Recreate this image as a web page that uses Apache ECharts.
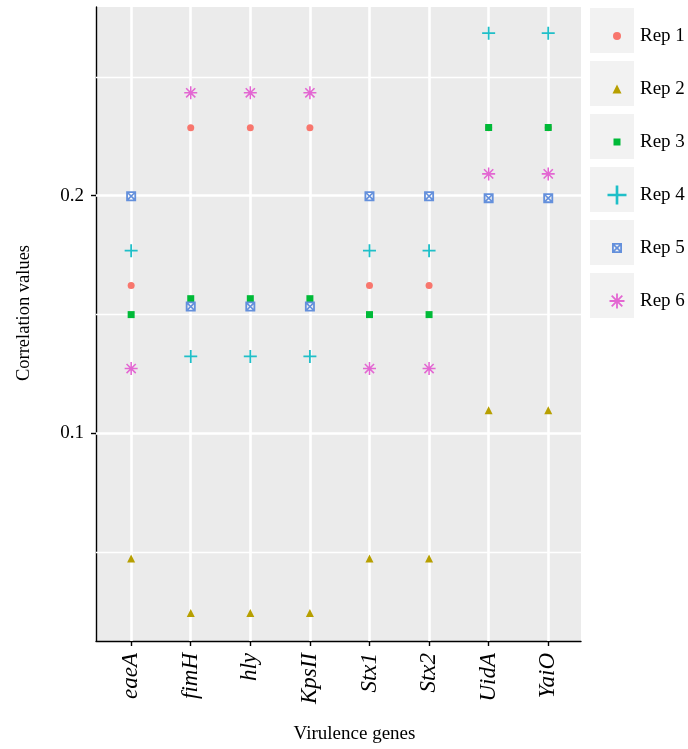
<!DOCTYPE html>
<html>
<head>
<meta charset="utf-8">
<script src="https://cdn.jsdelivr.net/npm/echarts@6/dist/echarts.min.js"></script>
<style>
  html, body { margin: 0; padding: 0; background: #ffffff; }
  #chart { width: 688px; height: 749px; }
</style>
</head>
<body>
<div id="chart"></div>
<script>
// Virulence genes on the x axis
const genes = ['eaeA', 'fimH', 'hly', 'KpsII', 'Stx1', 'Stx2', 'UidA', 'YaiO'];

// Correlation values per replicate, one value per gene
const rep1 = [0.1622, 0.2286, 0.2286, 0.2286, 0.1622, 0.1622, 0.2286, 0.2286];
const rep2 = [0.0474, 0.0245, 0.0245, 0.0245, 0.0474, 0.0474, 0.1098, 0.1098];
const rep3 = [0.1500, 0.1567, 0.1567, 0.1567, 0.1500, 0.1500, 0.2287, 0.2287];
const rep4 = [0.1769, 0.1324, 0.1324, 0.1324, 0.1769, 0.1769, 0.2684, 0.2684];
const rep5 = [0.1998, 0.1534, 0.1534, 0.1534, 0.1998, 0.1998, 0.1990, 0.1990];
const rep6 = [0.1273, 0.2433, 0.2433, 0.2433, 0.1273, 0.1273, 0.2092, 0.2092];

const repNames = ['Rep 1', 'Rep 2', 'Rep 3', 'Rep 4', 'Rep 5', 'Rep 6'];
const repValues = [rep1, rep2, rep3, rep4, rep5, rep6];

// y axis: labelled ticks and minor grid positions
const yTicks = [0.1, 0.2];
const yMinor = [0.05, 0.15, 0.25];

// ---------- symbol shapes (ggplot-like point shapes) ----------
function rectPoly(halfW, halfL, angleDeg, cx, cy) {
  const a = angleDeg * Math.PI / 180, c = Math.cos(a), s = Math.sin(a);
  const pts = [[-halfW, -halfL], [halfW, -halfL], [halfW, halfL], [-halfW, halfL]]
    .map(([x, y]) => [cx + x * c - y * s, cy + x * s + y * c]);
  return 'M' + pts.map(p => p[0].toFixed(2) + ' ' + p[1].toFixed(2)).join(' L') + ' Z';
}
const plusPath = 'path://M43 0 L57 0 L57 43 L100 43 L100 57 L57 57 L57 100 L43 100 L43 57 L0 57 L0 43 L43 43 Z';
const asteriskPath = 'path://' + [0, 45, 90, 135].map(a => rectPoly(6, 50, a, 50, 50)).join(' ');
const squareCrossPath = 'path://M0 0 L100 0 L100 100 L0 100 Z M18 18 L18 82 L82 82 L82 18 Z ' +
  rectPoly(8, 45, 45, 50, 50) + ' ' + rectPoly(8, 45, 135, 50, 50);

const styles = [
  { color: '#F8766D', symbol: 'circle',        size: 7,  legendSize: 8 },
  { color: '#B79F00', symbol: 'triangle',      size: 8,  legendSize: 9 },
  { color: '#00BA38', symbol: 'rect',          size: 7,  legendSize: 7 },
  { color: '#1FBFC8', symbol: plusPath,        size: 13, legendSize: 19 },
  { color: '#6490DC', symbol: squareCrossPath, size: 10, legendSize: 10 },
  { color: '#E367D2', symbol: asteriskPath,    size: 13, legendSize: 15 }
];

const FONT = 'Liberation Serif';

const chart = echarts.init(document.getElementById('chart'), null, { renderer: 'canvas' });

const seriesList = repNames.map((name, k) => ({
  type: 'scatter',
  name: name,
  data: repValues[k].map((v, i) => [i + 1, v]),
  symbol: styles[k].symbol,
  symbolSize: styles[k].size,
  itemStyle: { color: styles[k].color, opacity: 1 },
  z: 3 + k,
  silent: true
}));

// White panel grid lines drawn through the axes' scales
const gridLines = {
  type: 'scatter',
  name: '_grid',
  data: [],
  silent: true,
  z: 1,
  markLine: {
    silent: true,
    symbol: 'none',
    z: 1,
    animation: false,
    label: { show: false },
    lineStyle: { color: '#ffffff', type: 'solid', width: 2.6 },
    emphasis: { disabled: true },
    data: [
      ...yMinor.map(v => ({ yAxis: v, lineStyle: { color: '#ffffff', type: 'solid', width: 1.3 } })),
      ...yTicks.map(v => ({ yAxis: v, lineStyle: { color: '#ffffff', type: 'solid', width: 2.6 } })),
      ...genes.map((g, i) => ({ xAxis: i + 1, lineStyle: { color: '#ffffff', type: 'solid', width: 2.6 } }))
    ]
  }
};

// One legend block per replicate so each key keeps its own symbol size
const legends = repNames.map((name, k) => {
  const s = styles[k].legendSize;
  return {
    data: [{ name: name, icon: styles[k].symbol }],
    orient: 'vertical',
    left: 612 - s / 2,
    top: 31 + 53 * k - 10,
    itemWidth: s,
    itemHeight: s,
    selectedMode: false,
    textStyle: {
      fontFamily: FONT, fontSize: 19, color: '#000000', lineHeight: 20,
      padding: [0, 0, 0, 640 - (612 + s / 2 + 10)]
    }
  };
});

const keyBoxes = repNames.map((name, k) => ({
  type: 'rect',
  left: 590,
  top: 8 + 53 * k,
  shape: { width: 44, height: 45 },
  style: { fill: '#F2F2F2' },
  z: 0,
  silent: true
}));

chart.setOption({
  animation: false,
  backgroundColor: '#ffffff',
  grid: {
    left: 96, right: 107, top: 7, bottom: 107,
    show: true, backgroundColor: '#EBEBEB', borderWidth: 0
  },
  graphic: keyBoxes,
  legend: legends,
  xAxis: {
    type: 'value',
    min: 0.41,
    max: 8.55,
    name: 'Virulence genes',
    nameLocation: 'middle',
    nameGap: 84,
    nameTextStyle: { fontFamily: FONT, fontSize: 19, color: '#000000', padding: [0, 0, 0, 32] },
    axisLine: { show: true, onZero: false, lineStyle: { color: '#000000', width: 1.4 } },
    axisTick: { show: true, length: 5, customValues: genes.map((g, i) => i + 1), lineStyle: { color: '#000000', width: 1.4 } },
    axisLabel: {
      customValues: genes.map((g, i) => i + 1),
      formatter: v => genes[Math.round(v) - 1] || '',
      rotate: 90,
      margin: 12,
      fontFamily: FONT, fontStyle: 'italic', fontSize: 23, color: '#000000'
    },
    splitLine: { show: false }
  },
  yAxis: {
    type: 'value',
    min: 0.0127,
    max: 0.2794,
    name: 'Correlation values',
    nameLocation: 'middle',
    nameGap: 62,
    nameTextStyle: { fontFamily: FONT, fontSize: 18.5, color: '#000000', padding: [0, 0, 0, 22] },
    axisLine: { show: true, onZero: false, lineStyle: { color: '#000000', width: 1.4 } },
    axisTick: { show: true, length: 5, customValues: yTicks, lineStyle: { color: '#000000', width: 1.4 } },
    axisLabel: {
      customValues: yTicks,
      formatter: v => String(v),
      margin: 12,
      fontFamily: FONT, fontSize: 19, color: '#000000'
    },
    splitLine: { show: false }
  },
  series: [gridLines, ...seriesList]
});
</script>
</body>
</html>
